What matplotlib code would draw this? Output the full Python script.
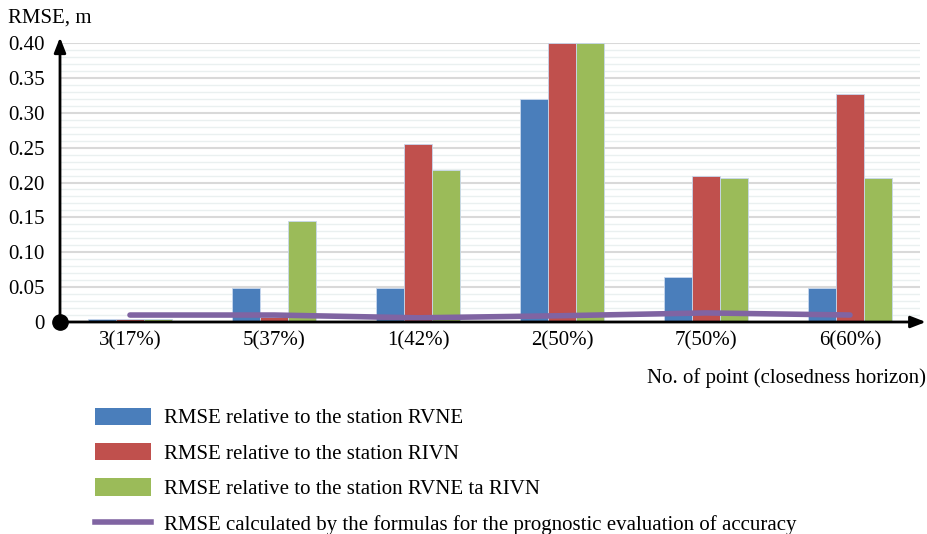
import numpy as np
import matplotlib.pyplot as plt
from matplotlib.patches import Patch
from matplotlib.lines import Line2D

plt.rcParams['font.family'] = ['Liberation Serif', 'DejaVu Serif']

points = ['3(17%)', '5(37%)', '1(42%)', '2(50%)', '7(50%)', '6(60%)']
rvne = [0.004, 0.049, 0.049, 0.320, 0.065, 0.049]
rivn = [0.005, 0.007, 0.255, 0.400, 0.209, 0.327]
rvne_rivn = [0.004, 0.145, 0.218, 0.400, 0.206, 0.206]
prognostic = [0.010, 0.010, 0.006, 0.009, 0.013, 0.010]

labels = ['RMSE relative to the station RVNE',
          'RMSE relative to the station RIVN',
          'RMSE relative to the station RVNE ta RIVN',
          'RMSE calculated by the formulas for the prognostic evaluation of accuracy']
colors = ['#4a7ebb', '#c0504d', '#9bbb59', '#8064a2']

fig = plt.figure(figsize=(9.28, 5.34), dpi=100)
ax = fig.add_axes([60/928, 1-322/534, 860/928, 279/534])

x = np.arange(len(points))
w = 0.195
for i, (vals, c) in enumerate(zip([rvne, rivn, rvne_rivn], colors)):
    ax.bar(x + (i-1)*w, vals, w, color=c, edgecolor='#c8d8ee', linewidth=0.6, zorder=3)
ax.plot(x, prognostic, color=colors[3], lw=4, solid_capstyle='round', zorder=4)

ax.set_xlim(-0.486, 5.486)
ax.set_ylim(0, 0.40)
ax.set_yticks(np.arange(0, 0.401, 0.05))
ax.set_yticklabels(['0'] + ['%.2f' % v for v in np.arange(0.05, 0.401, 0.05)], fontsize=15)
ax.set_yticks(np.arange(0, 0.401, 0.01), minor=True)
ax.set_xticks(x)
ax.set_xticklabels(points, fontsize=15)
ax.tick_params(axis='both', length=0, which='both')
ax.tick_params(axis='y', pad=11)
ax.tick_params(axis='x', pad=7)
ax.grid(axis='y', which='major', color='#d9d9d9', lw=1.5, zorder=0)
ax.grid(axis='y', which='minor', color='#eaf0f0', lw=1.0, zorder=0)
for s in ['top', 'right', 'left', 'bottom']:
    ax.spines[s].set_visible(False)

# axes with arrows
ax.annotate('', xy=(0, 1.03), xytext=(0, 0), xycoords='axes fraction',
            arrowprops=dict(arrowstyle='-|>,head_width=0.35,head_length=0.9', color='black', lw=2),
            annotation_clip=False, zorder=5)
ax.annotate('', xy=(1.01, 0), xytext=(0, 0), xycoords='axes fraction',
            arrowprops=dict(arrowstyle='-|>,head_width=0.35,head_length=0.9', color='black', lw=2),
            annotation_clip=False, zorder=5)
ax.plot([0], [0], 'o', color='black', ms=11, transform=ax.transAxes, clip_on=False, zorder=6)

fig.text(8/928, 1-18/534, 'RMSE, m', fontsize=15, va='center', ha='left')
fig.text(926/928, 1-378/534, 'No. of point (closedness horizon)', fontsize=15, va='center', ha='right')

handles = [Patch(facecolor=c) for c in colors[:3]] + [Line2D([], [], color=colors[3], lw=4)]
fig.legend(handles, labels, loc='upper left', bbox_to_anchor=(80/928, 1-393/534),
           frameon=False, fontsize=15, handlelength=2.7, handleheight=0.9,
           labelspacing=0.7, handletextpad=0.65, borderpad=0.2)

fig.savefig('out.png', dpi=100)
